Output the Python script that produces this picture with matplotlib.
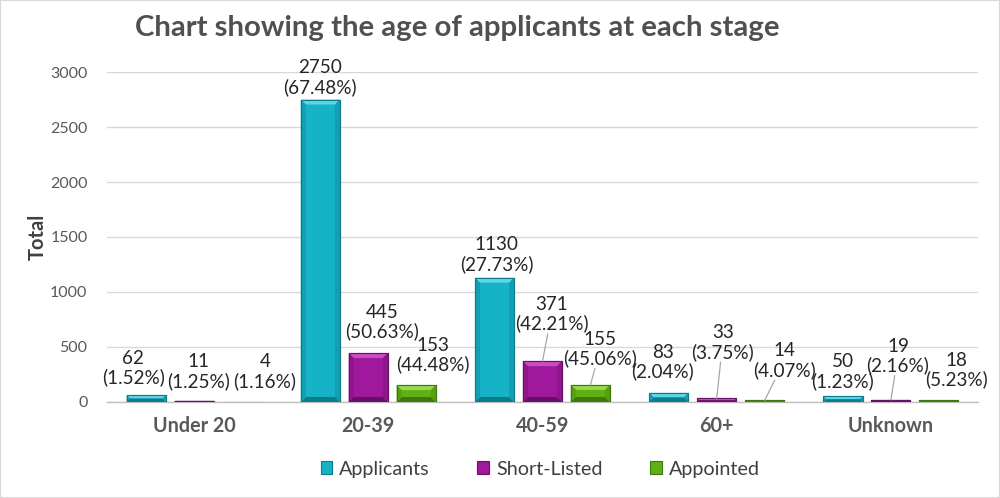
import matplotlib
matplotlib.use("Agg")
import matplotlib.pyplot as plt
from matplotlib.patches import Patch, Polygon
from matplotlib.transforms import IdentityTransform
import numpy as np

plt.rcParams["font.family"] = ["Lato", "DejaVu Sans"]

categories = ["Under 20", "20-39", "40-59", "60+", "Unknown"]
series = ["Applicants", "Short-Listed", "Appointed"]
applicants = [62, 2750, 1130, 83, 50]
short_listed = [11, 445, 371, 33, 19]
appointed = [4, 153, 155, 14, 18]
applicants_pct = ["1.52", "67.48", "27.73", "2.04", "1.23"]
short_listed_pct = ["1.25", "50.63", "42.21", "3.75", "2.16"]
appointed_pct = ["1.16", "44.48", "45.06", "4.07", "5.23"]

values = [applicants, short_listed, appointed]
pcts = [applicants_pct, short_listed_pct, appointed_pct]

# colours: face, light top, dark bottom, side
colors = [
    ("#16B3C7", "#5ED6E6", "#0B7C8C", "#129FB1"),
    ("#A0199C", "#CC4CC6", "#6A0E67", "#8E1689"),
    ("#60B015", "#95DA4A", "#3C7A08", "#56A012"),
]

# label offsets in pixels (dx, dy) from bar top centre, and leader flag
label_offsets = [
    [(-13, 27, False), (0, 22, False), (2, 23, False), (-6, 31, False), (0, 25, False)],
    [(4, 29, False), (14, 31, False), (9, 47, True), (6, 56, True), (7, 44, True)],
    [(23, 30, False), (17, 30, False), (10, 36, True), (20, 40, True), (18, 30, False)],
]

fig = plt.figure(figsize=(10, 4.98), dpi=100)
ax = fig.add_axes([0.107, 0.1928, 0.871, 0.6626])

x = np.arange(len(categories))
width = 0.225
step = 0.275
all_bars = []
for i, (vals, col) in enumerate(zip(values, colors)):
    bars = ax.bar(x + (i - 1) * step, vals, width, color=col[0], edgecolor=col[2],
                  linewidth=0.8, zorder=3, label=series[i])
    all_bars.append(bars)

ax.set_xlim(-0.5, len(categories) - 0.5)
ax.set_ylim(0, 3000)
ax.set_yticks(range(0, 3001, 500))
ax.yaxis.grid(True, color="#D9D9D9", linewidth=1, zorder=0)
ax.set_axisbelow(True)
for s in ["top", "right", "left"]:
    ax.spines[s].set_visible(False)
ax.spines["bottom"].set_color("#BFBFBF")
ax.spines["bottom"].set_linewidth(1)
ax.tick_params(axis="both", length=0)
ax.tick_params(axis="y", labelsize=11.5, labelcolor="#595959", pad=14)
ax.set_xticks(x)
ax.set_xticklabels(categories, fontsize=14.2, fontweight="bold", color="#595959")
ax.tick_params(axis="x", pad=10)
ax.set_ylabel("Total", fontsize=14.5, fontweight="bold", color="#404040", labelpad=2)

fig.canvas.draw()

# bevel effect drawn in pixel space
for bars, col in zip(all_bars, colors):
    for b in bars:
        (x0, y0), (x1, y1) = ax.transData.transform([(b.get_x(), 0),
                                                      (b.get_x() + b.get_width(), b.get_height())])
        h = y1 - y0
        bv = min(5.0, h / 2.0)
        if bv < 0.5:
            continue
        polys = [
            ([(x0, y1), (x1, y1), (x1 - bv, y1 - bv), (x0 + bv, y1 - bv)], col[1]),
            ([(x0, y0), (x1, y0), (x1 - bv, y0 + bv), (x0 + bv, y0 + bv)], col[2]),
            ([(x0, y0), (x0 + bv, y0 + bv), (x0 + bv, y1 - bv), (x0, y1)], col[3]),
            ([(x1, y0), (x1 - bv, y0 + bv), (x1 - bv, y1 - bv), (x1, y1)], col[3]),
        ]
        for pts, c in polys:
            ax.add_patch(Polygon(pts, closed=True, facecolor=c, edgecolor="none",
                                 transform=IdentityTransform(), zorder=4))
        ax.add_patch(Polygon([(x0, y0), (x1, y0), (x1, y1), (x0, y1)], closed=True,
                             facecolor="none", edgecolor=col[2], linewidth=0.8,
                             transform=IdentityTransform(), zorder=5))

# data labels
for i, bars in enumerate(all_bars):
    for j, b in enumerate(bars):
        dx, dy, leader = label_offsets[i][j]
        txt = f"{values[i][j]}\n({pcts[i][j]}%)"
        kw = {}
        if leader:
            kw["arrowprops"] = dict(arrowstyle="-", color="#A6A6A6", lw=0.9,
                                    shrinkA=1, shrinkB=0)
        ax.annotate(txt, xy=(b.get_x() + b.get_width() / 2, b.get_height()),
                    xytext=(dx, dy), textcoords="offset pixels",
                    ha="center", va="center", fontsize=13.6, color="#262626",
                    linespacing=1.12, annotation_clip=False, zorder=6,
                    bbox=dict(boxstyle="square,pad=0", fc="none", ec="none"), **kw)

fig.text(0.457, 0.944, "Chart showing the age of applicants at each stage",
         ha="center", va="center", fontsize=21.2, fontweight="bold", color="#505050")

handles = [Patch(facecolor=c[0], edgecolor=c[2], linewidth=0.8) for c in colors]
fig.legend(handles, series, loc="center", bbox_to_anchor=(0.54, 0.058), ncol=3,
           frameon=False, fontsize=14.2, handlelength=0.6, handleheight=0.6,
           handletextpad=0.35, columnspacing=2.4, labelcolor="#404040")

fig.patches.append(plt.Rectangle((0, 0), 1, 1, transform=fig.transFigure,
                                 fill=False, edgecolor="#D9D9D9", linewidth=1.5))

fig.savefig("out.png", dpi=100)
